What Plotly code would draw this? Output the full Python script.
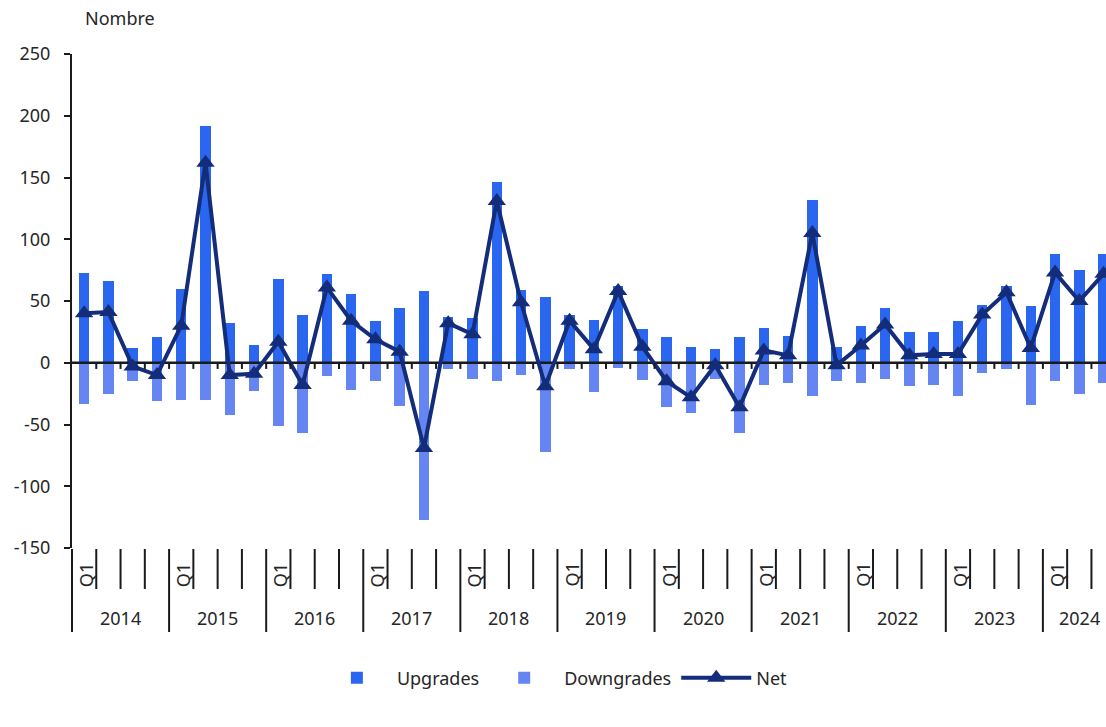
import plotly.graph_objects as go

# ---------------- data ----------------
years = ["2014", "2015", "2016", "2017", "2018", "2019", "2020", "2021", "2022", "2023", "2024"]
quarters_in_year = [4, 4, 4, 4, 4, 4, 4, 4, 4, 4, 3]
first_quarter_label = "Q1"

upgrades = [73, 66, 12, 21,
            60, 192, 32, 14,
            68, 39, 72, 56,
            34, 44, 58, 37,
            36, 146, 59, 53,
            39, 35, 62, 27,
            21, 13, 11, 21,
            28, 22, 132, 13,
            30, 44, 25, 25,
            34, 47, 62, 46,
            88, 75, 88]

downgrades = [-33, -25, -15, -31,
              -30, -30, -42, -23,
              -51, -57, -11, -22,
              -15, -35, -127, -5,
              -13, -15, -10, -72,
              -5, -24, -4, -14,
              -36, -41, -13, -57,
              -18, -16, -27, -15,
              -16, -13, -19, -18,
              -27, -8, -5, -34,
              -15, -25, -16]

net = [40, 41, -3, -10,
       30, 162, -10, -9,
       17, -18, 61, 34,
       19, 9, -69, 32,
       23, 131, 49, -19,
       34, 11, 58, 13,
       -15, -28, -2, -36,
       10, 6, 105, -2,
       14, 31, 6, 7,
       7, 39, 57, 12,
       73, 50, 72]

y_ticks = [-150, -100, -50, 0, 50, 100, 150, 200, 250]
y_tick_labels = ["-150", "-100", "-50", "0", "50", "100", "150", "200", "250"]

# ---------------- style ----------------
UP = "#2B66F0"
DOWN = "#6485F2"
NET = "#142D7B"
AX = "#1A1A1A"
TXT = "#262626"
FONT = "Noto Sans"

# body margin is removed by the post script, so the figure fills the window
W, H = 1106, 727
PLOT_TOP, PLOT_BOTTOM = 54, 548  # page px
ML, MR, MT = 72, 0, PLOT_TOP
MB = H - PLOT_BOTTOM
X0, X1 = -0.5, 42.1
PLOT_H = PLOT_BOTTOM - PLOT_TOP
PLOT_W = W - ML - MR


def px_to_paper_y(py):
    return (PLOT_BOTTOM - py) / PLOT_H


def to_paper_x(xv):
    return (xv - X0) / (X1 - X0)


n = len(upgrades)
xs = list(range(n))

fig = go.Figure()
fig.add_trace(go.Bar(x=xs, y=upgrades, name="Upgrades", marker=dict(color=UP, line=dict(width=0)),
                     width=0.43))
fig.add_trace(go.Bar(x=xs, y=downgrades, name="Downgrades", marker=dict(color=DOWN, line=dict(width=0)),
                     width=0.43))
# zero line between bars and the net line
fig.add_trace(go.Scatter(x=[X0, X1], y=[0, 0], mode="lines", line=dict(color=AX, width=2.5),
                         showlegend=False, hoverinfo="skip"))
fig.add_trace(go.Scatter(x=xs, y=net, name="Net", mode="lines+markers",
                         line=dict(color=NET, width=4),
                         marker=dict(symbol="triangle-up", size=16, color=NET)))

shapes = []
annotations = []

# small ticks under the zero line at quarter boundaries
for i in range(n - 1):
    b = i + 0.5
    shapes.append(dict(type="line", xref="x", yref="y", x0=b, x1=b, y0=0, y1=-5,
                       line=dict(color=AX, width=2), layer="above"))

# category separators below plot
year_starts = []
idx = 0
for q in quarters_in_year:
    year_starts.append(idx)
    idx += q

y_top = px_to_paper_y(549)
y_q = px_to_paper_y(589)
y_y = px_to_paper_y(632)
for i in range(n):
    b = i - 0.5
    long_line = i in year_starts
    shapes.append(dict(type="line", xref="paper", yref="paper",
                       x0=to_paper_x(b), x1=to_paper_x(b), y0=y_top, y1=(y_y if long_line else y_q),
                       line=dict(color=AX, width=2)))

# labels
for yr, start, q in zip(years, year_starts, quarters_in_year):
    annotations.append(dict(x=start, xref="x", xanchor="center",
                            y=px_to_paper_y(575), yref="paper", yanchor="middle",
                            text=first_quarter_label, textangle=-90, showarrow=False, xshift=2,
                            font=dict(family=FONT, size=18, color=TXT)))
    center = start + (q - 1) / 2
    annotations.append(dict(x=center, xref="x", xanchor="center",
                            y=px_to_paper_y(618), yref="paper", yanchor="middle",
                            text=yr, showarrow=False,
                            font=dict(family=FONT, size=18, color=TXT)))

annotations.append(dict(x=11 / PLOT_W, xref="paper", xanchor="left",
                        y=px_to_paper_y(18), yref="paper", yanchor="middle",
                        text="Nombre", showarrow=False,
                        font=dict(family=FONT, size=18, color=TXT)))

fig.update_layout(
    width=W, height=H, autosize=False,
    margin=dict(l=ML, r=MR, t=MT, b=MB, pad=0),
    paper_bgcolor="white", plot_bgcolor="white",
    barmode="relative", bargap=0,
    font=dict(family=FONT, size=18, color=TXT),
    showlegend=True,
    legend=dict(orientation="h", x=0.467, xanchor="center", y=px_to_paper_y(678), yanchor="middle",
                font=dict(family=FONT, size=18, color=TXT), traceorder="normal",
                itemwidth=70),
    shapes=shapes,
    annotations=annotations,
    hovermode=False,
)
fig.update_xaxes(range=[X0, X1], showticklabels=False, showgrid=False, zeroline=False,
                 showline=False, ticks="")
fig.update_yaxes(range=[-150, 250], tickvals=y_ticks, ticktext=y_tick_labels,
                 showgrid=False, zeroline=False, showline=True, linecolor=AX, linewidth=2,
                 ticks="outside", ticklen=6, tickwidth=2, tickcolor=AX,
                 tickfont=dict(family=FONT, size=18, color=TXT), ticklabelstandoff=10)

fig.write_html("out.html",
               config={"displayModeBar": False},
               post_script="document.body.style.margin='0';document.body.style.overflow='hidden';")
